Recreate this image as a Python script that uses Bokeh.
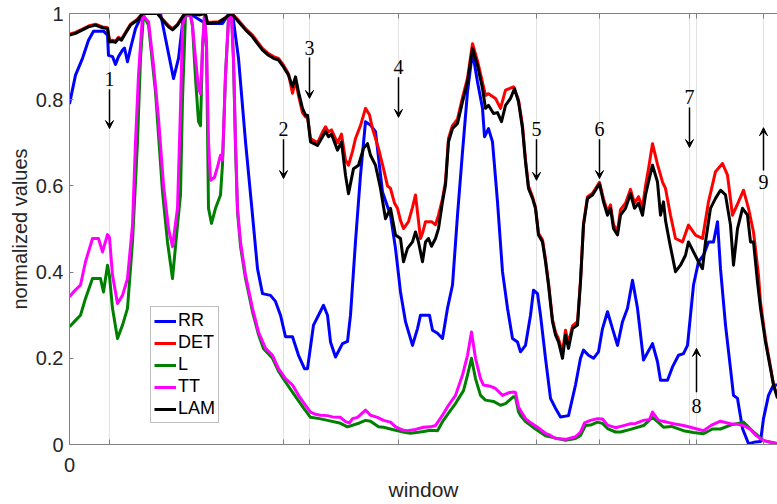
from bokeh.plotting import figure
from bokeh.models import (Range1d, FixedTicker, LinearAxis, Legend, LegendItem,
                          Arrow, VeeHead, Label, ColumnDataSource)
from bokeh.embed import file_html
from bokeh.resources import INLINE

# ---------------- data (window index, normalized value) ----------------
rr = [(0,0.79),(6,0.857),(13,0.896),(19,0.938),(24,0.959),(34,0.959),(38,0.95),(39,0.903),(43,0.90),
      (46,0.882),(49,0.90),(53,0.915),(55,0.92),(58,0.888),(61,0.919),(66,0.965),(73,1.0),(91,1.0),
      (96,0.942),(104,0.849),(109,0.896),(114,0.996),(120,1.0),(136,0.977),(153,0.977),(158,0.995),
      (163,1.0),(169,0.896),(176,0.703),(183,0.532),(188,0.408),(193,0.35),(201,0.346),(206,0.332),
      (211,0.30),(216,0.25),(223,0.25),(229,0.207),(235,0.176),(238,0.176),(244,0.277),(249,0.30),
      (254,0.323),(258,0.30),(261,0.238),(266,0.203),(273,0.234),(278,0.239),(281,0.30),(286,0.471),
      (291,0.625),(296,0.749),(301,0.741),(306,0.726),(313,0.586),(321,0.532),(326,0.455),(331,0.354),
      (336,0.285),(343,0.23),(348,0.269),(351,0.30),(360,0.30),(363,0.265),(368,0.258),(373,0.246),
      (378,0.316),(383,0.37),(388,0.532),(393,0.679),(398,0.818),(403,0.911),(408,0.841),(413,0.78),
      (415,0.714),(419,0.733),(423,0.702),(428,0.563),(433,0.401),(438,0.316),(443,0.246),(448,0.238),
      (451,0.215),(456,0.23),(461,0.30),(464,0.358),(468,0.35),(471,0.30),(476,0.2),(481,0.107),
      (486,0.084),(491,0.064),(499,0.067),(506,0.138),(511,0.2),(514,0.219),(519,0.207),(524,0.2),
      (529,0.215),(533,0.269),(538,0.308),(543,0.269),(548,0.23),(553,0.285),(558,0.316),(563,0.381),
      (568,0.316),(574,0.196),(583,0.234),(588,0.192),(591,0.149),(598,0.149),(603,0.18),(609,0.207),
      (614,0.211),(618,0.23),(621,0.30),(624,0.37),(629,0.424),(634,0.439),(639,0.47),(644,0.47),
      (648,0.517),(651,0.408),(656,0.277),(661,0.176),(664,0.114),(668,0.107),(673,0.037),(679,0.002),
      (686,0.006),(691,0.007),(694,0.06),(699,0.114),(704,0.138),(708,0.138)]

det = [(0,0.952),(6,0.956),(13,0.964),(19,0.971),(26,0.975),(33,0.969),(38,0.967),(40,0.937),(43,0.938),
       (46,0.936),(49,0.945),(52,0.941),(56,0.956),(61,0.975),(68,0.987),(73,1.0),(88,1.0),(93,0.987),
       (99,0.972),(103,0.965),(108,0.975),(113,0.993),(116,1.0),(130,0.997),(134,1.0),(136,0.998),
       (138,0.979),(149,0.981),(156,0.99),(161,1.0),(164,0.996),(169,0.984),(176,0.965),(183,0.95),
       (188,0.934),(193,0.919),(199,0.907),(204,0.9),(209,0.896),(214,0.88),(219,0.86),(223,0.815),
       (226,0.845),(229,0.81),(233,0.77),(236,0.76),(238,0.76),(241,0.71),(248,0.70),(253,0.725),
       (256,0.737),(259,0.725),(262,0.73),(268,0.70),(272,0.72),(276,0.66),(279,0.648),(283,0.68),
       (286,0.71),(291,0.74),(296,0.78),(300,0.765),(303,0.733),(309,0.687),(314,0.64),(318,0.60),
       (321,0.594),(325,0.56),(328,0.548),(331,0.52),(334,0.501),(339,0.517),(343,0.55),(346,0.579),
       (351,0.478),(353,0.49),(356,0.517),(362,0.517),(366,0.51),(369,0.532),(373,0.57),(376,0.61),
       (379,0.71),(383,0.74),(388,0.755),(393,0.805),(398,0.85),(403,0.93),(408,0.89),(413,0.84),
       (416,0.81),(419,0.814),(426,0.803),(431,0.78),(436,0.822),(444,0.83),(449,0.80),(453,0.74),
       (456,0.66),(459,0.60),(463,0.575),(466,0.55),(469,0.49),(473,0.475),(476,0.43),(479,0.375),
       (483,0.29),(486,0.26),(489,0.245),(493,0.215),(496,0.265),(499,0.235),(503,0.275),(508,0.285),
       (511,0.38),(514,0.512),(518,0.575),(523,0.583),(526,0.594),(530,0.608),(534,0.57),(538,0.54),
       (541,0.556),(544,0.51),(548,0.495),(551,0.545),(556,0.56),(561,0.592),(565,0.56),(569,0.575),
       (573,0.55),(576,0.60),(579,0.64),(583,0.698),(588,0.65),(593,0.609),(596,0.594),(601,0.532),
       (606,0.478),(613,0.47),(619,0.509),(626,0.486),(633,0.478),(639,0.563),(646,0.633),(653,0.652),
       (658,0.625),(663,0.532),(669,0.563),(674,0.59),(679,0.548),(684,0.493),(689,0.393),(691,0.33),
       (696,0.245),(701,0.18),(704,0.14),(708,0.11)]

lam = [(0,0.95),(6,0.954),(13,0.962),(19,0.969),(26,0.973),(33,0.967),(38,0.965),(40,0.934),(43,0.935),
       (46,0.933),(49,0.942),(52,0.938),(56,0.954),(61,0.973),(68,0.985),(73,1.0),(88,1.0),(93,0.985),
       (99,0.969),(103,0.962),(108,0.973),(113,0.992),(116,1.0),(130,0.997),(134,1.0),(136,0.998),
       (138,0.977),(149,0.979),(156,0.99),(161,1.0),(164,0.995),(169,0.981),(176,0.962),(183,0.946),
       (188,0.93),(193,0.915),(199,0.903),(204,0.896),(209,0.892),(214,0.876),(219,0.857),(223,0.83),
       (226,0.853),(229,0.818),(233,0.78),(236,0.764),(238,0.764),(241,0.702),(248,0.694),(253,0.714),
       (256,0.726),(259,0.714),(262,0.72),(268,0.683),(272,0.702),(276,0.625),(279,0.582),(284,0.64),
       (289,0.648),(294,0.687),(298,0.698),(301,0.671),(306,0.648),(311,0.594),(316,0.524),(321,0.548),
       (326,0.486),(331,0.478),(334,0.424),(338,0.455),(343,0.47),(346,0.493),(349,0.47),(353,0.424),
       (356,0.47),(359,0.478),(362,0.46),(366,0.478),(369,0.501),(373,0.563),(376,0.602),(379,0.702),
       (383,0.733),(388,0.745),(393,0.795),(398,0.841),(403,0.919),(408,0.88),(413,0.826),(416,0.78),
       (419,0.787),(424,0.768),(428,0.77),(432,0.749),(436,0.787),(441,0.803),(445,0.826),(449,0.795),
       (453,0.733),(456,0.656),(459,0.594),(463,0.571),(466,0.548),(469,0.486),(473,0.47),(476,0.424),
       (479,0.37),(483,0.285),(486,0.254),(489,0.238),(493,0.2),(496,0.254),(499,0.223),(503,0.269),
       (508,0.277),(511,0.377),(514,0.509),(518,0.571),(523,0.579),(526,0.59),(530,0.605),(534,0.563),
       (538,0.532),(541,0.548),(544,0.501),(548,0.486),(551,0.532),(556,0.548),(561,0.582),(565,0.548),
       (569,0.56),(573,0.532),(576,0.579),(579,0.609),(583,0.648),(588,0.609),(591,0.532),(594,0.563),
       (596,0.52),(600,0.47),(606,0.401),(611,0.416),(616,0.439),(619,0.47),(624,0.447),(629,0.424),
       (633,0.408),(636,0.47),(641,0.548),(646,0.571),(651,0.59),(656,0.579),(661,0.509),(664,0.416),
       (668,0.501),(673,0.548),(678,0.532),(681,0.47),(684,0.47),(688,0.377),(691,0.316),(696,0.238),
       (701,0.176),(704,0.138),(708,0.107)]

tt = [(0,0.343),(4,0.354),(11,0.37),(16,0.424),(23,0.478),(29,0.478),(33,0.447),(38,0.487),(40,0.48),
      (43,0.393),(48,0.327),(53,0.346),(58,0.385),(63,0.509),(66,0.702),(69,0.857),(73,0.996),(79,0.981),
      (84,0.88),(89,0.756),(94,0.602),(99,0.501),(103,0.459),(108,0.548),(111,0.78),(113,0.973),
      (116,0.996),(121,0.996),(123,0.973),(126,0.896),(129,0.826),(131,0.814),(133,0.919),(135,0.996),
      (137,0.934),(139,0.702),(141,0.613),(145,0.62),(148,0.644),(151,0.671),(153,0.66),(156,0.857),
      (159,0.988),(162,0.996),(164,0.896),(166,0.702),(168,0.548),(171,0.47),(176,0.393),(183,0.316),
      (189,0.261),(196,0.223),(203,0.207),(209,0.176),(216,0.153),(223,0.138),(229,0.114),(236,0.091),
      (241,0.075),(246,0.07),(251,0.068),(258,0.067),(263,0.064),(271,0.063),(276,0.053),(280,0.05),
      (283,0.06),(288,0.063),(296,0.08),(301,0.068),(308,0.063),(314,0.056),(321,0.052),(326,0.041),
      (334,0.033),(338,0.032),(346,0.035),(354,0.04),(361,0.041),(366,0.044),(373,0.068),(379,0.091),
      (386,0.114),(393,0.161),(398,0.207),(402,0.261),(406,0.2),(411,0.153),(414,0.138),(421,0.135),
      (426,0.13),(433,0.114),(439,0.12),(444,0.122),(446,0.121),(449,0.087),(451,0.079),(456,0.06),
      (462,0.049),(468,0.04),(476,0.026),(481,0.021),(486,0.014),(496,0.012),(506,0.018),(511,0.029),
      (515,0.05),(521,0.056),(528,0.06),(533,0.059),(538,0.045),(546,0.039),(556,0.045),(561,0.048),
      (566,0.049),(574,0.056),(580,0.058),(583,0.075),(589,0.056),(597,0.052),(604,0.048),(614,0.044),
      (621,0.04),(634,0.032),(642,0.045),(651,0.054),(661,0.048),(668,0.047),(674,0.044),(681,0.035),
      (687,0.02),(694,0.009),(708,0.002)]

lmean = [(0,0.273),(6,0.288),(11,0.30),(16,0.339),(23,0.385),(31,0.385),(34,0.354),(38,0.416),(40,0.39),
         (43,0.316),(48,0.246),(53,0.277),(58,0.316),(63,0.47),(68,0.702),(71,0.896),(74,0.996),(79,0.973),
         (86,0.818),(93,0.586),(98,0.47),(103,0.385),(108,0.509),(111,0.579),(113,0.8),(116,0.996),
         (121,0.996),(123,0.97),(126,0.85),(129,0.749),(131,0.74),(133,0.919),(135,0.996),(137,0.92),
         (139,0.548),(142,0.513),(146,0.548),(151,0.579),(153,0.65),(156,0.857),(159,0.988),(162,0.996),
         (164,0.89),(166,0.69),(168,0.54),(171,0.46),(176,0.385),(183,0.308),(189,0.255),(194,0.222),
         (203,0.2),(209,0.17),(214,0.152),(224,0.118),(234,0.085),(241,0.063),(250,0.06),(258,0.056),
         (270,0.05),(278,0.041),(290,0.05),(296,0.056),(301,0.054),(309,0.041),(314,0.04),(326,0.033),
         (336,0.028),(341,0.026),(354,0.03),(361,0.033),(368,0.032),(373,0.053),(381,0.079),(386,0.095),
         (394,0.125),(398,0.161),(402,0.2),(406,0.153),(411,0.114),(416,0.103),(424,0.1),(431,0.091),
         (436,0.095),(444,0.111),(446,0.11),(449,0.076),(451,0.067),(456,0.053),(466,0.036),(476,0.02),
         (484,0.016),(496,0.01),(506,0.014),(511,0.021),(516,0.044),(521,0.045),(528,0.052),(533,0.049),
         (538,0.037),(546,0.029),(551,0.029),(561,0.035),(574,0.044),(583,0.063),(590,0.049),(594,0.04),
         (602,0.042),(614,0.032),(624,0.028),(634,0.025),(643,0.036),(651,0.036),(661,0.045),(674,0.052),
         (684,0.029),(694,0.009),(708,0.002)]

series_names = ["RR", "DET", "L", "TT", "LAM"]
series_data = [rr, det, lmean, tt, lam]
series_colors = ["#0000FF", "#FF0000", "#008000", "#FF00FF", "#000000"]

event_windows = [40, 214, 240, 329, 467, 530, 620, 627, 694]
event_labels = ["1", "2", "3", "4", "5", "6", "7", "8", "9"]
# (label value, arrow start value, arrow end value)
event_arrows = [(0.847, 0.824, 0.733), (0.733, 0.708, 0.617), (0.921, 0.898, 0.803),
                (0.877, 0.852, 0.759), (0.733, 0.708, 0.613), (0.733, 0.708, 0.617),
                (0.807, 0.782, 0.689), (0.090, 0.121, 0.223), (0.608, 0.636, 0.735)]

y_ticks = [0, 0.2, 0.4, 0.6, 0.8, 1]
y_tick_labels = ["0", "0.2", "0.4", "0.6", "0.8", "1"]

# ---------------- figure ----------------
AX = "#808080"
TXT = "#262626"
FONT = "Liberation Sans"

p = figure(width=777, height=504, output_backend="svg", toolbar_location=None,
           x_range=Range1d(0, 708), y_range=Range1d(0, 1),
           min_border_left=69, min_border_right=0, min_border_top=13, min_border_bottom=60,
           background_fill_color="white", border_fill_color="white")
p.outline_line_color = None

# x axis (bottom): one labelled tick at 0, event ticks as unlabelled minor ticks
xa = p.xaxis[0]
xa.ticker = FixedTicker(ticks=[0], minor_ticks=event_windows)
xa.axis_label = "window"
xa.axis_label_text_font = FONT
xa.axis_label_text_font_size = "21px"
xa.axis_label_text_font_style = "normal"
xa.axis_label_text_color = TXT
xa.axis_label_standoff = 3
xa.major_label_text_font = FONT
xa.major_label_text_font_size = "20px"
xa.major_label_text_color = TXT
xa.major_label_standoff = 13
xa.major_tick_in = 5
xa.major_tick_out = 0
xa.minor_tick_in = 5
xa.minor_tick_out = 0
xa.minor_tick_line_color = AX
xa.axis_line_color = AX
xa.major_tick_line_color = AX

# y axis (left)
ya = p.yaxis[0]
ya.ticker = FixedTicker(ticks=y_ticks)
ya.major_label_overrides = dict(zip(y_ticks, y_tick_labels))
ya.axis_label = "normalized values"
ya.axis_label_text_font = FONT
ya.axis_label_text_font_size = "20px"
ya.axis_label_text_font_style = "normal"
ya.axis_label_text_color = TXT
ya.axis_label_standoff = 2
ya.major_label_text_font = FONT
ya.major_label_text_font_size = "20px"
ya.major_label_text_color = TXT
ya.major_label_standoff = 6
ya.major_tick_in = 4
ya.major_tick_out = 0
ya.minor_tick_line_color = None
ya.axis_line_color = AX
ya.major_tick_line_color = AX

# top axis (box edge with inward ticks at the events, no labels)
ta = LinearAxis(ticker=FixedTicker(ticks=[], minor_ticks=event_windows),
                major_tick_in=5, major_tick_out=0, minor_tick_in=5, minor_tick_out=0,
                minor_tick_line_color=AX, axis_line_color=AX, major_tick_line_color=AX)
p.add_layout(ta, "above")

# grid
p.xgrid.ticker = FixedTicker(ticks=event_windows)
p.xgrid.grid_line_color = "#e2e2e2"
p.xgrid.grid_line_width = 1
p.ygrid.visible = False

# lines
renderers = []
for name, data, color in zip(series_names, series_data, series_colors):
    src = ColumnDataSource(dict(x=[d[0] for d in data], y=[d[1] for d in data]))
    r = p.line("x", "y", source=src, line_color=color, line_width=3, line_join="round")
    renderers.append(r)

# legend
legend = Legend(items=[LegendItem(label=n, renderers=[r]) for n, r in zip(series_names, renderers)],
                location=(81, 21), label_text_font=FONT, label_text_font_size="18px",
                label_text_color="black", glyph_width=22, glyph_height=18, label_height=18,
                label_standoff=2, spacing=1, padding=3, margin=0,
                border_line_color=AX, border_line_width=1, background_fill_color="white",
                background_fill_alpha=1.0)
p.add_layout(legend)

# event annotations
for xw, lab, (ty, y0, y1) in zip(event_windows, event_labels, event_arrows):
    p.add_layout(Arrow(end=VeeHead(size=8, line_color="black", fill_color="black", line_width=1),
                       x_start=xw, y_start=y0, x_end=xw, y_end=y1,
                       line_color="black", line_width=1.5))
    p.add_layout(Label(x=xw, y=ty, text=lab, text_font="Liberation Serif", text_font_size="20px",
                       text_align="center", text_baseline="middle", text_color="black"))

open("out.html", "w").write(file_html(p, INLINE))
